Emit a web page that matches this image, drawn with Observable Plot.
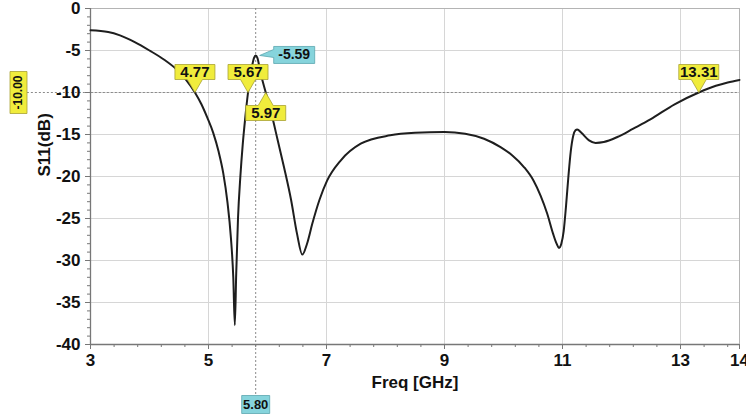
<!DOCTYPE html>
<html>
<head>
<meta charset="utf-8">
<script src="https://cdn.jsdelivr.net/npm/d3@7"></script>
<script src="https://cdn.jsdelivr.net/npm/@observablehq/plot@0.6"></script>
<style>
  html, body { margin: 0; padding: 0; background: #fff; }
</style>
</head>
<body>
<script>
// Frequency (GHz) and S11 (dB)
const freq = [3.0, 3.3, 3.5, 3.75, 4.0, 4.25, 4.45, 4.62, 4.77, 4.88, 4.98, 5.08, 5.17, 5.25, 5.32, 5.38, 5.42, 5.446,
  5.47, 5.5, 5.54, 5.58, 5.62, 5.67, 5.72, 5.77, 5.80, 5.83, 5.88, 5.97, 6.08, 6.17, 6.28, 6.4, 6.5, 6.59, 6.67,
  6.76, 6.88, 7.01, 7.24, 7.58, 8.08, 8.5, 9.0, 9.35, 9.67, 9.95, 10.15, 10.35, 10.51, 10.63, 10.74, 10.84,
  10.9, 10.94, 10.98, 11.02, 11.06, 11.1, 11.14, 11.18, 11.22, 11.25, 11.32, 11.45, 11.56, 11.7, 11.93, 12.2,
  12.49, 12.9, 13.31, 13.6, 13.8, 14.0];
const s11 = [-2.6, -2.8, -3.2, -4.0, -5.0, -6.1, -7.2, -8.5, -10.0, -11.4, -13.0, -14.8, -17.0, -19.6, -23.0,
  -27.3, -32.0, -37.7, -31.5, -25.0, -20.0, -16.2, -13.2, -10.0, -7.6, -5.9, -5.59, -5.9, -7.6, -10.0, -12.9,
  -15.6, -18.9, -22.8, -26.8, -29.3, -28.0, -25.6, -22.8, -20.5, -18.1, -16.1, -15.1, -14.8, -14.7, -14.9,
  -15.5, -16.5, -17.5, -18.9, -20.5, -22.3, -24.4, -26.8, -28.0, -28.5, -28.0, -26.5, -23.5, -20.0, -17.0,
  -15.2, -14.5, -14.4, -14.8, -15.7, -16.0, -15.9, -15.3, -14.3, -13.2, -11.4, -10.0, -9.2, -8.8, -8.5];

const xTicks = [3, 5, 7, 9, 11, 13, 14];
const yTicks = [0, -5, -10, -15, -20, -25, -30, -35, -40];
const xMinor = d3.range(3, 14.01, 0.4);
const yMinor = d3.range(-40, 0.01, 1);

const refLevel = -10;
const markersDown = [4.77, 5.67, 13.31];
const markersUp = [5.97];
const peakFreq = [5.80];
const peakValue = [-5.59];

const data = freq.map((f, i) => ({ f, v: s11[i] }));
const peak = peakFreq.map((f, i) => ({ f, v: peakValue[i] }));

const yellow = "#f0ec3c", yellowStroke = "#a8a232";
const cyan = "#86d4dc", cyanStroke = "#5aa6ae";

const calloutDown = { draw(c) {
  c.moveTo(0, 0); c.lineTo(7.5, -13); c.lineTo(20, -13); c.lineTo(20, -28);
  c.lineTo(-20, -28); c.lineTo(-20, -13); c.lineTo(-7.5, -13); c.closePath();
}};
const calloutUp = { draw(c) {
  c.moveTo(0, 0); c.lineTo(7.5, 13); c.lineTo(20, 13); c.lineTo(20, 28);
  c.lineTo(-20, 28); c.lineTo(-20, 13); c.lineTo(-7.5, 13); c.closePath();
}};
const calloutRight = { draw(c) {
  c.moveTo(4, 0); c.lineTo(18, -6); c.lineTo(18, -9); c.lineTo(59, -9);
  c.lineTo(59, 8); c.lineTo(18, 8); c.lineTo(18, 2); c.closePath();
}};
const boxV = { draw(c) { c.rect(-8.5, -21, 17, 42); } };
const boxH = { draw(c) { c.rect(-14, -9, 28, 18); } };

const chart = Plot.plot({
  width: 746, height: 417,
  marginLeft: 90, marginRight: 7, marginTop: 8, marginBottom: 73,
  x: { domain: [3, 14] },
  y: { domain: [-40, 0] },
  style: { fontFamily: "'Liberation Sans', Arial, sans-serif", background: "#fff", color: "#111" },
  marks: [
    Plot.gridX(xTicks, { stroke: "#d6d6d6", strokeOpacity: 1 }),
    Plot.gridY(yTicks, { stroke: "#d6d6d6", strokeOpacity: 1 }),
    Plot.frame({ stroke: "#b4b4b4" }),
    Plot.ruleY([refLevel], { x1: 1.93, x2: 14, stroke: "#8a8a8a", strokeDasharray: "2,2" }),
    Plot.ruleX(peakFreq, { y1: 0, y2: -46, stroke: "#8a8a8a", strokeDasharray: "2,2" }),
    Plot.axisX({ ticks: xMinor, tickSize: 3, text: null, label: null, stroke: "#777" }),
    Plot.axisY({ ticks: yMinor, tickSize: 3, text: null, label: null, stroke: "#777" }),
    Plot.axisX({ ticks: xTicks, tickSize: 5, tickPadding: 4, fontSize: 17, fontWeight: "bold",
      tickFormat: d => String(d), label: null, stroke: "#777", fill: "#111" }),
    Plot.axisY({ ticks: yTicks, tickSize: 5, tickPadding: 5, fontSize: 17, fontWeight: "bold",
      tickFormat: d => String(d), label: null, stroke: "#777", fill: "#111" }),
    Plot.ruleX([3], { stroke: "#777", strokeWidth: 1.3 }),
    Plot.ruleY([-40], { stroke: "#777", strokeWidth: 1.3 }),
    Plot.text(["Freq [GHz]"], { frameAnchor: "bottom", dy: 38, lineAnchor: "middle", fontSize: 17, fontWeight: "bold", fill: "#111" }),
    Plot.text(["S11(dB)"], { frameAnchor: "left", dx: -46, rotate: -90, fontSize: 17, fontWeight: "bold", fill: "#111" }),
    Plot.line(data, { x: "f", y: "v", stroke: "#1e1e1e", strokeWidth: 2, curve: "monotone-x" }),
    // markers
    Plot.dot(markersDown, { x: d => d, y: () => refLevel, symbol: calloutDown, fill: yellow, stroke: yellowStroke, strokeWidth: 0.8 }),
    Plot.text(markersDown, { x: d => d, y: () => refLevel, text: d => d.toFixed(2), dy: -20.5, fontSize: 15, fontWeight: "bold", fill: "#111" }),
    Plot.dot(markersUp, { x: d => d, y: () => refLevel, symbol: calloutUp, fill: yellow, stroke: yellowStroke, strokeWidth: 0.8 }),
    Plot.text(markersUp, { x: d => d, y: () => refLevel, text: d => d.toFixed(2), dy: 20.5, fontSize: 15, fontWeight: "bold", fill: "#111" }),
    Plot.dot(peak, { x: "f", y: "v", symbol: calloutRight, fill: cyan, stroke: cyanStroke, strokeWidth: 0.8 }),
    Plot.text(peak, { x: "f", y: "v", text: d => d.v.toFixed(2), dx: 38.5, dy: -0.5, fontSize: 14, fontWeight: "bold", fill: "#111" }),
    Plot.dot([refLevel], { x: () => 3, y: d => d, dx: -72, symbol: boxV, fill: yellow, stroke: yellowStroke, strokeWidth: 0.8 }),
    Plot.text([refLevel], { x: () => 3, y: d => d, dx: -72, rotate: -90, text: d => d.toFixed(2), fontSize: 12, fontWeight: "bold", fill: "#111" }),
    Plot.dot(peakFreq, { x: d => d, y: () => -40, dy: 60, symbol: boxH, fill: cyan, stroke: cyanStroke, strokeWidth: 0.8 }),
    Plot.text(peakFreq, { x: d => d, y: () => -40, dy: 60, text: d => d.toFixed(2), fontSize: 13, fontWeight: "bold", fill: "#111" })
  ]
});
document.body.appendChild(chart);
</script>
</body>
</html>
